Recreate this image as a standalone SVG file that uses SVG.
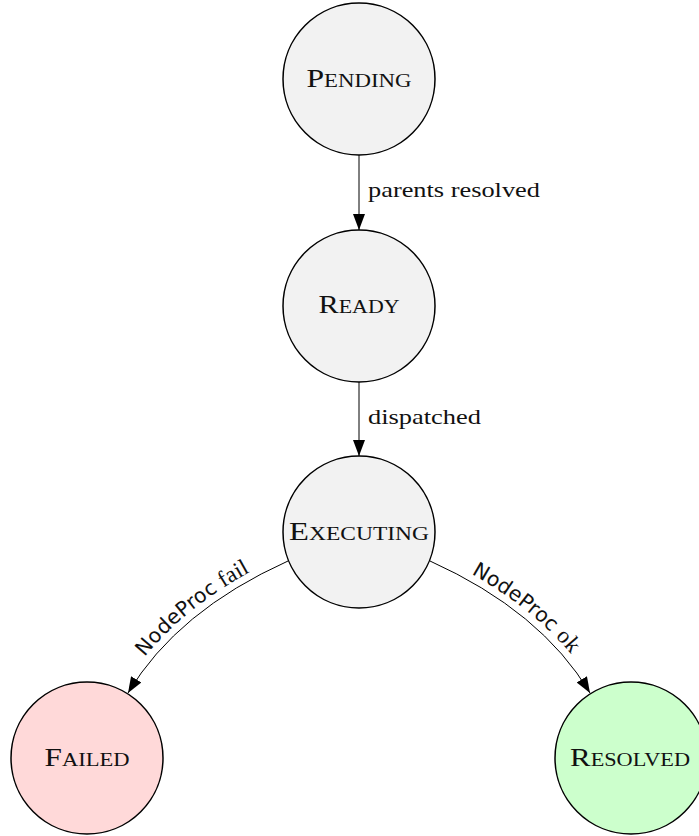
<svg xmlns="http://www.w3.org/2000/svg" width="699" height="836" viewBox="0 0 699 836">
<style>
.st{stroke:#000;stroke-width:1.5}
.nl{font-family:"Liberation Serif",serif;font-size:25px;font-variant:small-caps;fill:#111;text-anchor:middle}
.el{font-family:"Liberation Serif",serif;font-size:22px;fill:#111}
.edge{fill:none;stroke:#000;stroke-width:1}
.sans{font-family:"DejaVu Sans",sans-serif;font-size:20.5px}
.ser{font-family:"Liberation Serif",serif;font-size:23px}
</style>
<defs>
<marker id="ah" markerUnits="userSpaceOnUse" markerWidth="16" markerHeight="12" refX="16" refY="6" orient="auto">
<path d="M0,0 L16,6 L0,12 z" fill="#000"/>
</marker>
<path id="lp" d="M128,693 Q177,611 288,561"/>
<path id="rp" d="M430,561 Q541,611 590,693"/>
</defs>
<g id="connectors">
<line class="edge" x1="359" y1="155" x2="359" y2="230" marker-end="url(#ah)"/>
<line class="edge" x1="359" y1="382" x2="359" y2="456" marker-end="url(#ah)"/>
<path class="edge" d="M288,561 Q177,611 128,693" marker-end="url(#ah)"/>
<path class="edge" d="M430,561 Q541,611 590,693" marker-end="url(#ah)"/>
<text class="el" x="368" y="197" textLength="172" lengthAdjust="spacingAndGlyphs">parents resolved</text>
<text class="el" x="368" y="424" textLength="113" lengthAdjust="spacingAndGlyphs">dispatched</text>
<text fill="#111" dy="-7"><textPath href="#lp" startOffset="50%" text-anchor="middle"><tspan class="sans">NodeProc</tspan><tspan class="ser" dx="6">fail</tspan></textPath></text>
<text fill="#111" dy="-7"><textPath href="#rp" startOffset="50%" text-anchor="middle"><tspan class="sans">NodeProc</tspan><tspan class="ser" dx="6">ok</tspan></textPath></text>
</g>
<g id="pending">
<circle class="st" cx="359" cy="79" r="76" fill="#f2f2f2"/>
<text class="nl" x="359" y="87" textLength="105" lengthAdjust="spacingAndGlyphs">Pending</text>
</g>
<g id="ready">
<circle class="st" cx="359" cy="306" r="76" fill="#f2f2f2"/>
<text class="nl" x="359" y="313" textLength="81" lengthAdjust="spacingAndGlyphs">Ready</text>
</g>
<g id="executing">
<circle class="st" cx="359" cy="532" r="76" fill="#f2f2f2"/>
<text class="nl" x="359" y="540" textLength="140" lengthAdjust="spacingAndGlyphs">Executing</text>
</g>
<g id="failed">
<circle class="st" cx="87" cy="758" r="76" fill="#ffd9d9"/>
<text class="nl" x="87" y="766" textLength="85" lengthAdjust="spacingAndGlyphs">Failed</text>
</g>
<g id="resolved">
<circle class="st" cx="631" cy="758" r="76" fill="#ccffcc"/>
<text class="nl" x="630" y="766" textLength="120" lengthAdjust="spacingAndGlyphs">Resolved</text>
</g>
</svg>
